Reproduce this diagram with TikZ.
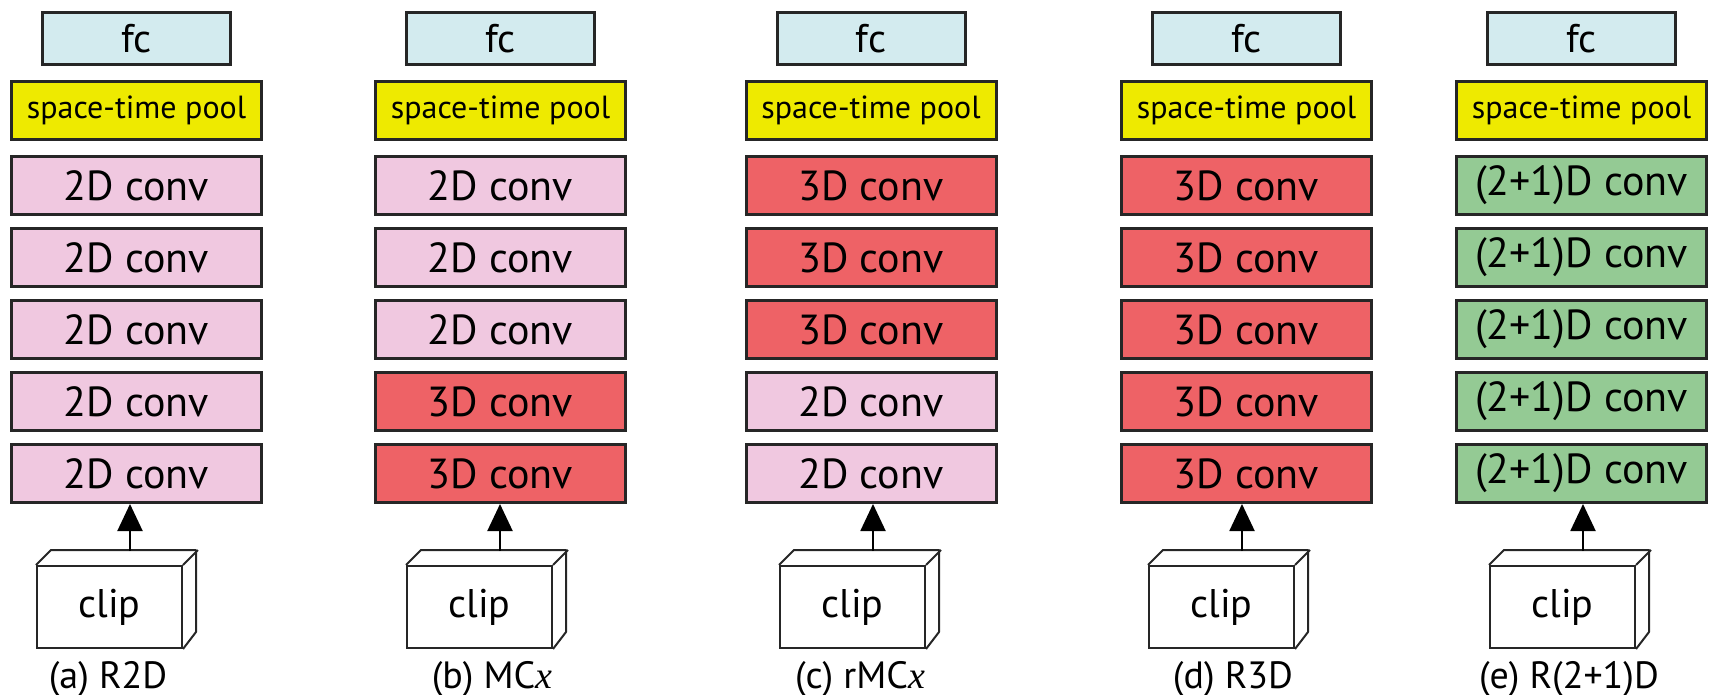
\documentclass[tikz,border=0pt]{standalone}
\usepackage{fontspec}
\setmainfont{PT Sans}
\newfontfamily\xfont{Liberation Serif}
\usetikzlibrary{arrows.meta}
\definecolor{fcblue}{HTML}{D3EBEF}
\definecolor{poolyellow}{HTML}{EEEA00}
\definecolor{pinktwo}{HTML}{F0C8E0}
\definecolor{redthree}{HTML}{EE6266}
\definecolor{greenmix}{HTML}{94CA94}
\newcommand{\vx}{{\xfont\itshape x}}
\begin{document}
\begin{tikzpicture}[x=0.5pt,y=-0.5pt,
  box/.style={draw=black!85, line width=1.5pt, minimum width=125pt, minimum height=29pt,
    inner sep=0pt, font=\fontsize{21}{24}\selectfont},
  fcbox/.style={box, fill=fcblue, minimum width=94pt, minimum height=26pt,
    font=\fontsize{20}{24}\selectfont},
  poolbox/.style={box, fill=poolyellow, font=\fontsize{16}{19}\selectfont},
  c2/.style={box, fill=pinktwo, node contents={2D conv}},
  c3/.style={box, fill=redthree, node contents={3D conv}},
  c21/.style={box, fill=greenmix, node contents={(2+1)D conv}},
  arr/.style={line width=1pt, -{Triangle[length=13.5pt,width=12.5pt]}},
  clipface/.style={draw=black!85, line width=1pt, minimum width=72.5pt, minimum height=41pt,
    inner sep=0pt, fill=white, font=\fontsize{20}{24}\selectfont},
  clipline/.style={draw=black!85, line width=1pt, line join=round},
  captext/.style={anchor=base, font=\fontsize{19}{23}\selectfont}]
\useasboundingbox (0,0) rectangle (1713,695);
\foreach \n/\cx/\ax/\capx/\lst/\lab in {
  a/136.5/130/108/{c2,c2,c2,c2,c2}/{(a) R2D},
  b/500.5/500/492/{c2,c2,c2,c3,c3}/{(b) MC\vx},
  c/871/873/860/{c3,c3,c3,c2,c2}/{(c) rMC\vx},
  d/1246.5/1242/1233/{c3,c3,c3,c3,c3}/{(d) R3D},
  e/1581.5/1583/1569/{c21,c21,c21,c21,c21}/{(e) R(2+1)D}} {
  \node[fcbox] (fc\n) at (\cx,38.5) {fc};
  \node[poolbox] (pool\n) at (\cx,110.5) {space-time pool};
  \foreach \s [count=\i] in \lst {
    \node (r\n\i) at (\cx,{185.5+72*(\i-1)}) [\s];
  }
  \node[clipface] (clip\n) at ({\ax-93+72.5},607) {clip};
  \draw[clipline] (clip\n.north west) -- ++(15,-15) -- ++(145,0) -- ++(0,82) -- (clip\n.south east);
  \draw[clipline] (clip\n.north east) -- ++(15,-15);
  \coordinate (top\n) at (\ax,551);
  \draw[arr] (top\n) -- (top\n |- r\n5.south);
  \node[captext] (cap\n) at (\capx,688) {\lab};
}
\end{tikzpicture}
\end{document}
